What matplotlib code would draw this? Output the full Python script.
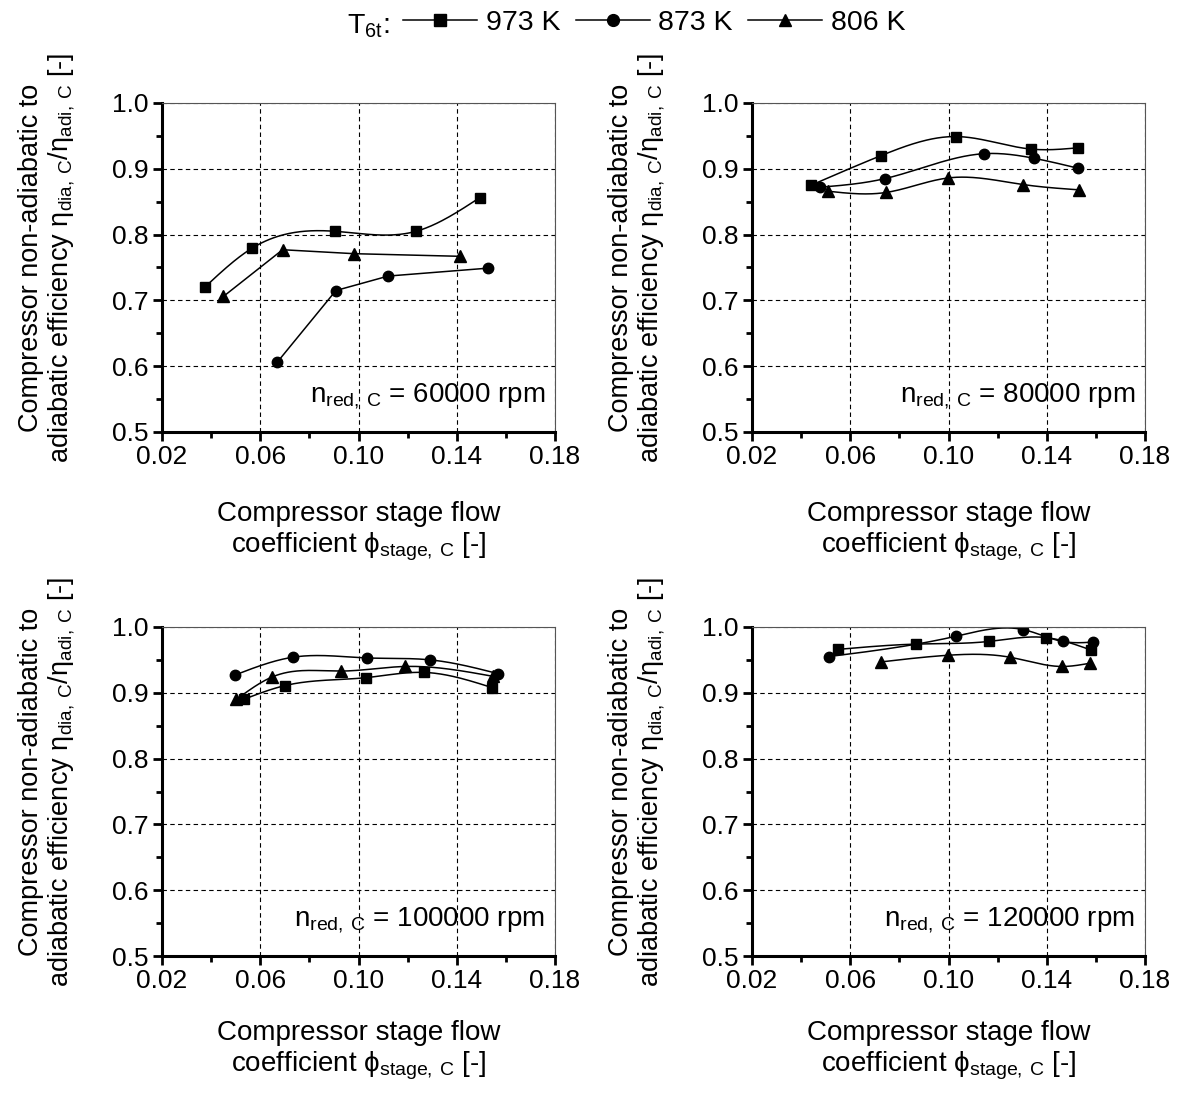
import matplotlib.pyplot as plt
import numpy as np
from matplotlib.lines import Line2D

plt.rcParams['font.family'] = ['Liberation Sans', 'DejaVu Sans']
plt.rcParams['mathtext.fontset'] = 'custom'
plt.rcParams['mathtext.rm'] = 'Liberation Sans'

# speed labels for the four panels
speeds = ['60000', '80000', '100000', '120000']

# T6t = 973 K (squares)
x973 = [[0.0374, 0.0565, 0.0905, 0.1234, 0.1493],
        [0.0440, 0.0725, 0.1031, 0.1335, 0.1529],
        [0.0532, 0.0701, 0.1030, 0.1267, 0.1543],
        [0.0551, 0.0867, 0.1163, 0.1395, 0.1580]]
y973 = [[0.720, 0.779, 0.805, 0.805, 0.856],
        [0.875, 0.920, 0.949, 0.930, 0.932],
        [0.890, 0.911, 0.923, 0.931, 0.908],
        [0.966, 0.974, 0.978, 0.984, 0.965]]

# T6t = 873 K (circles)
x873 = [[0.0669, 0.0908, 0.1121, 0.1527],
        [0.0478, 0.0740, 0.1146, 0.1348, 0.1526],
        [0.0497, 0.0732, 0.1033, 0.1293, 0.1569],
        [0.0512, 0.1031, 0.1305, 0.1465, 0.1587]]
y873 = [[0.606, 0.715, 0.737, 0.749],
        [0.872, 0.885, 0.923, 0.916, 0.901],
        [0.927, 0.954, 0.953, 0.950, 0.929],
        [0.955, 0.986, 0.996, 0.978, 0.977]]

# T6t = 806 K (triangles)
x806 = [[0.0450, 0.0691, 0.0982, 0.1414],
        [0.0508, 0.0745, 0.0997, 0.1305, 0.1532],
        [0.0503, 0.0648, 0.0929, 0.1188, 0.1548],
        [0.0727, 0.0996, 0.1251, 0.1462, 0.1576]]
y806 = [[0.706, 0.777, 0.771, 0.767],
        [0.866, 0.864, 0.886, 0.876, 0.868],
        [0.890, 0.924, 0.933, 0.940, 0.925],
        [0.947, 0.957, 0.954, 0.940, 0.945]]


def spline(x, y, n=200):
    # natural cubic spline through the points, for the connecting line only
    x = np.asarray(x, float)
    y = np.asarray(y, float)
    k = len(x)
    h = np.diff(x)
    A = np.zeros((k, k))
    b = np.zeros(k)
    A[0, 0] = A[-1, -1] = 1
    for i in range(1, k - 1):
        A[i, i - 1] = h[i - 1]
        A[i, i] = 2 * (h[i - 1] + h[i])
        A[i, i + 1] = h[i]
        b[i] = 6 * ((y[i + 1] - y[i]) / h[i] - (y[i] - y[i - 1]) / h[i - 1])
    M = np.linalg.solve(A, b)
    xs = np.linspace(x[0], x[-1], n)
    idx = np.clip(np.searchsorted(x, xs) - 1, 0, k - 2)
    x0, x1 = x[idx], x[idx + 1]
    hh = x1 - x0
    ys = (M[idx] * (x1 - xs) ** 3 / (6 * hh) + M[idx + 1] * (xs - x0) ** 3 / (6 * hh)
          + (y[idx] / hh - M[idx] * hh / 6) * (x1 - xs)
          + (y[idx + 1] / hh - M[idx + 1] * hh / 6) * (xs - x0))
    return xs, ys


W, H = 1181, 1095
fig = plt.figure(figsize=(W / 100, H / 100), dpi=100)

# panel boxes in pixels: left, top, right, bottom
boxes = [(162, 103, 555, 432), (752, 103, 1145, 432),
         (162, 627, 555, 956), (752, 627, 1145, 956)]

series = [(x973, y973, 's', 7), (x873, y873, 'o', 7.5), (x806, y806, '^', 8.5)]

for p, (l, t, r, b) in enumerate(boxes):
    ax = fig.add_axes([l / W, 1 - b / H, (r - l) / W, (b - t) / H])
    for xs, ys, m, ms in series:
        if p == 0 and m != 's':
            ax.plot(xs[p], ys[p], 'k-', lw=1.1)
        else:
            sx, sy = spline(xs[p], ys[p])
            ax.plot(sx, sy, 'k-', lw=1.1)
        ax.plot(xs[p], ys[p], 'k', ls='none', marker=m, ms=ms)
    ax.set_xlim(0.02, 0.18)
    ax.set_ylim(0.5, 1.0)
    ax.set_xticks([0.02, 0.06, 0.10, 0.14, 0.18])
    ax.set_xticklabels(['0.02', '0.06', '0.10', '0.14', '0.18'])
    ax.set_xticks(np.arange(0.04, 0.18, 0.04), minor=True)
    ax.set_yticks([0.5, 0.6, 0.7, 0.8, 0.9, 1.0])
    ax.set_yticks(np.arange(0.55, 1.0, 0.1), minor=True)
    ax.grid(True, which='major', color='k', ls=(0, (4, 3)), lw=0.8)
    ax.tick_params(which='major', direction='out', length=6.5, width=2, labelsize=19, pad=3)
    ax.tick_params(which='minor', direction='out', length=4, width=2)
    for s in ['left', 'bottom']:
        ax.spines[s].set_linewidth(2.2)
    for s in ['top', 'right']:
        ax.spines[s].set_linewidth(0.8)
        ax.spines[s].set_color('#555555')
    ax.set_ylabel('Compressor non-adiabatic to\nadiabatic efficiency η$_\\mathregular{dia,\\,C}$/η$_\\mathregular{adi,\\,C}$ [-]',
                  fontsize=19.5, linespacing=1.1)
    ax.yaxis.set_label_coords(-0.216, 0.53)
    ax.set_xlabel('Compressor stage flow\ncoefficient ϕ$_\\mathregular{stage,\\,C}$ [-]',
                  fontsize=20, linespacing=1.15)
    ax.xaxis.set_label_coords(0.5, -0.21 if p < 2 else -0.195)
    ax.text(0.975, 0.09, 'n$_\\mathregular{red,\\,C}$ = ' + speeds[p] + ' rpm', transform=ax.transAxes,
            ha='right', va='baseline', fontsize=20)

handles = [Line2D([], [], color='k', lw=1.1, marker=m, ms=8.5) for m in ['s', 'o', '^']]
fig.legend(handles, ['973 K', '873 K', '806 K'], loc='center left', bbox_to_anchor=(403 / W, 1 - 23 / H),
           ncol=3, frameon=False, fontsize=20.5, handlelength=2.6, handletextpad=0.3,
           columnspacing=0.55, borderpad=0, borderaxespad=0)
fig.text(347 / W, 1 - 33 / H, 'T$_\\mathregular{6t}$:', fontsize=20.5, ha='left', va='baseline')

fig.savefig('out.png', dpi=100)
